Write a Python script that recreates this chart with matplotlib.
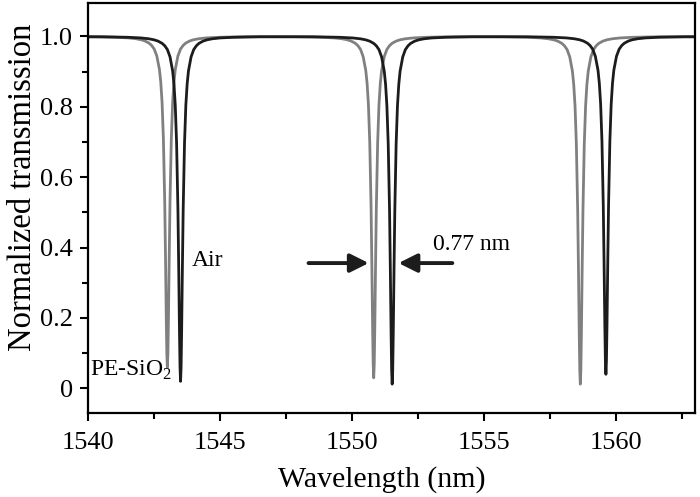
import numpy as np
import matplotlib
matplotlib.use('Agg')
import matplotlib.pyplot as plt

plt.rcParams['font.family'] = ['Liberation Serif', 'DejaVu Serif']
plt.rcParams['mathtext.fontset'] = 'custom'
plt.rcParams['mathtext.rm'] = 'Liberation Serif'

# dip centres (nm) and minimum transmission
air_centers = [1543.5, 1551.52, 1559.62]
air_minima = [0.02, 0.012, 0.04]
sio2_centers = [1543.0, 1550.82, 1558.65]
sio2_minima = [0.06, 0.03, 0.012]

# shape of one dip: offset from centre (nm) vs fraction of full depth
dip_offset = [-3.0, -2.0, -1.5, -1.2, -1.0, -0.85, -0.7, -0.6, -0.5, -0.4, -0.3, -0.25,
              -0.2, -0.15, -0.1, -0.07, -0.04, -0.02, 0.0,
              0.02, 0.04, 0.07, 0.1, 0.15, 0.2, 0.25, 0.3, 0.4, 0.5, 0.6, 0.7,
              0.85, 1.0, 1.2, 1.5, 2.0, 3.0]
dip_depth = [0.001, 0.0025, 0.0044, 0.0069, 0.0099, 0.0137, 0.02, 0.027, 0.038, 0.059,
             0.1, 0.138, 0.2, 0.31, 0.5, 0.67, 0.86, 0.96, 1.0,
             0.96, 0.86, 0.67, 0.5, 0.31, 0.2, 0.138, 0.1, 0.059, 0.038, 0.027, 0.02,
             0.0137, 0.0099, 0.0069, 0.0044, 0.0025, 0.001]

x_start, x_end = 1540, 1563


def spectrum(centers, minima):
    xs = [x_start]
    ys = [0.999]
    for c, m in zip(centers, minima):
        for off, d in zip(dip_offset, dip_depth):
            xs.append(c + off)
            ys.append(1 - (1 - m) * d)
    xs.append(x_end)
    ys.append(0.999)
    return np.array(xs), np.array(ys)


fig = plt.figure(figsize=(7, 4.97), dpi=100)
ax = fig.add_axes([0.126, 0.169, 0.867, 0.825])

x, y = spectrum(sio2_centers, sio2_minima)
ax.plot(x, y, color='#808080', lw=2.0)
x, y = spectrum(air_centers, air_minima)
ax.plot(x, y, color='#1c1c1c', lw=2.0)

ax.set_xlim(1540, 1563)
ax.set_ylim(-0.07, 1.095)
ax.set_xticks([1540, 1545, 1550, 1555, 1560])
ax.set_xticks(np.arange(1542.5, 1563, 5), minor=True)
ax.set_yticks([0, 0.2, 0.4, 0.6, 0.8, 1.0])
ax.set_yticklabels(['0', '0.2', '0.4', '0.6', '0.8', '1.0'])
ax.set_yticks([0.1, 0.3, 0.5, 0.7, 0.9], minor=True)
ax.tick_params(which='major', direction='out', length=6, width=1.5, labelsize=19, pad=5)
ax.tick_params(which='minor', direction='out', length=4, width=1.5)
ax.tick_params(axis='x', which='major', pad=8)
for s in ax.spines.values():
    s.set_linewidth(1.6)

ax.set_xlabel('Wavelength (nm)', fontsize=21.5)
ax.set_ylabel('Normalized transmission', fontsize=23.5)
ax.xaxis.set_label_coords(0.484, -0.13)
ax.yaxis.set_label_coords(-0.083, 0.55)

ax.text(1543.93, 0.362, 'Air', fontsize=17, va='center', ha='left')
ax.text(1543.16, 0.05, 'PE-SiO$_2$', fontsize=17, va='center', ha='right')
ax.text(1553.05, 0.408, '0.77 nm', fontsize=17, va='center', ha='left')

arrow = dict(arrowstyle='-|>', lw=2.8, mutation_scale=28, color='#1c1c1c',
             shrinkA=0, shrinkB=0)
ax.annotate('', xy=(1550.63, 0.356), xytext=(1548.35, 0.356), arrowprops=arrow)
ax.annotate('', xy=(1551.76, 0.356), xytext=(1553.8, 0.356), arrowprops=arrow)

fig.savefig('out.png', dpi=100)
